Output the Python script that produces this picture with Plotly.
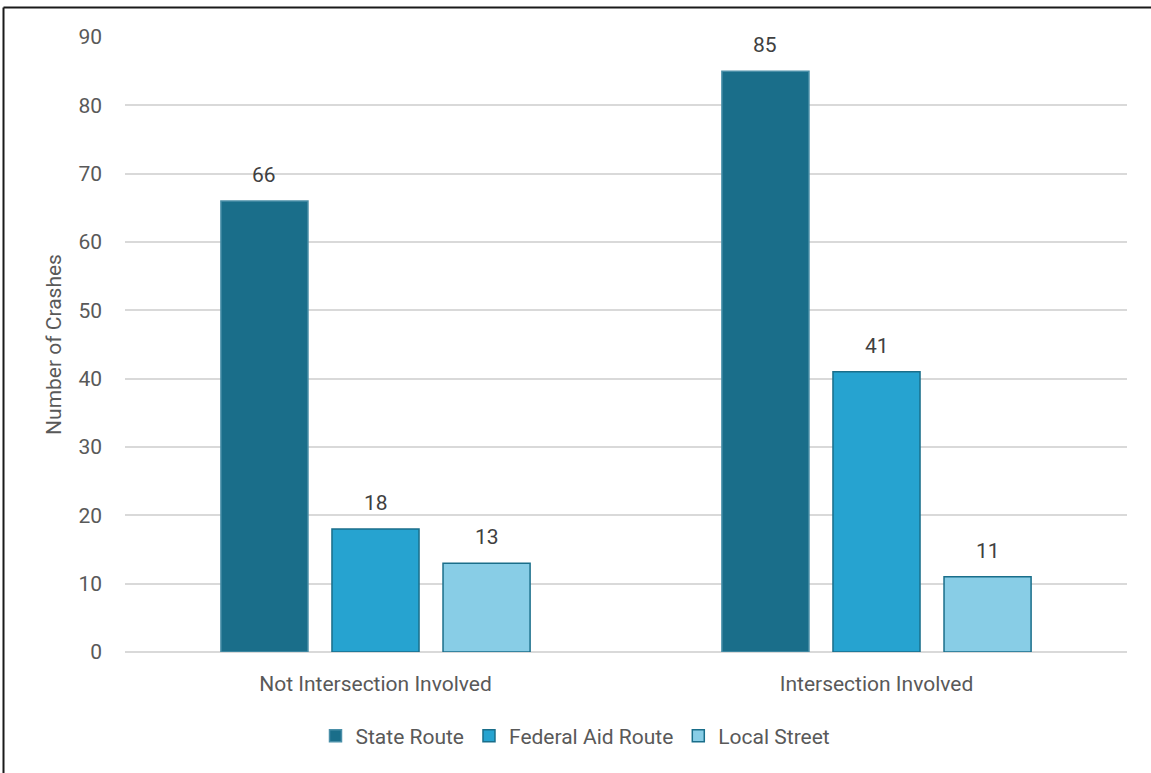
import plotly.graph_objects as go

# Crash counts by intersection involvement and road type
categories = ["Not Intersection Involved", "Intersection Involved"]
series_names = ["State Route", "Federal Aid Route", "Local Street"]
state_route = [66, 85]
federal_aid_route = [18, 41]
local_street = [13, 11]
y_ticks = [0, 10, 20, 30, 40, 50, 60, 70, 80, 90]

values = [state_route, federal_aid_route, local_street]
fills = ["#1A6E8A", "#26A3D0", "#88CDE6"]
outlines = ["#4A8FA8", "#1A6E8A", "#1A6E8A"]

FONT = "Roboto, sans-serif"
FS = 21
W, H = 1151, 773
ML, MR, MT, MB = 125, 24, 37, 121
BARGAP, GROUPGAP = 0.335, 0.216

fig = go.Figure()
for name, vals, fc, lc in zip(series_names, values, fills, outlines):
    fig.add_trace(go.Bar(
        name=name, x=categories, y=vals,
        marker=dict(color=fc, line=dict(color=lc, width=1.5)),
    ))

# value labels above each bar, centred on its slot within the group
n = len(series_names)
slot = (1 - BARGAP) / n
annotations = []
for i, vals in enumerate(values):
    off = (i - (n - 1) / 2) * slot
    for j, v in enumerate(vals):
        annotations.append(dict(
            x=j + off, y=v, xref="x", yref="y", text=str(v),
            showarrow=False, yanchor="bottom", yshift=12,
            font=dict(family=FONT, size=FS, color="#404040"),
        ))

# outer frame (top and left edges)
pw, ph = W - ML - MR, H - MT - MB
x_left = (3.5 - ML) / pw
y_top = (H - MB - 7.5) / ph
shapes = [
    dict(type="line", xref="paper", yref="paper", x0=x_left, x1=x_left,
         y0=y_top, y1=-0.5, line=dict(color="#1a1a1a", width=2)),
    dict(type="line", xref="paper", yref="paper", x0=x_left, x1=1.2,
         y0=y_top, y1=y_top, line=dict(color="#1a1a1a", width=2)),
]

fig.update_layout(
    width=W, height=H,
    margin=dict(l=ML, r=MR, t=MT, b=MB),
    paper_bgcolor="white", plot_bgcolor="white",
    barmode="group", bargap=BARGAP, bargroupgap=GROUPGAP,
    font=dict(family=FONT, size=FS, color="#595959"),
    annotations=annotations, shapes=shapes,
    legend=dict(orientation="h", xref="container", yref="container",
                x=0.5, xanchor="center", y=1 - 736 / H, yanchor="middle",
                font=dict(family=FONT, size=FS, color="#595959"),
                itemwidth=30, traceorder="normal"),
    xaxis=dict(showgrid=False, ticks="", showline=False,
               ticklabelstandoff=17,
               tickfont=dict(size=FS, color="#595959")),
    yaxis=dict(range=[0, 90], tickvals=y_ticks, showgrid=True,
               gridcolor="#D9D9D9", gridwidth=1.5, zeroline=True,
               zerolinecolor="#D9D9D9", zerolinewidth=1.5,
               ticks="", ticklabelstandoff=22,
               tickfont=dict(size=FS, color="#595959")),
)
fig.update_yaxes(title=dict(text="Number of Crashes", standoff=11,
                            font=dict(size=FS, color="#595959")))

fig.write_html("out.html")
